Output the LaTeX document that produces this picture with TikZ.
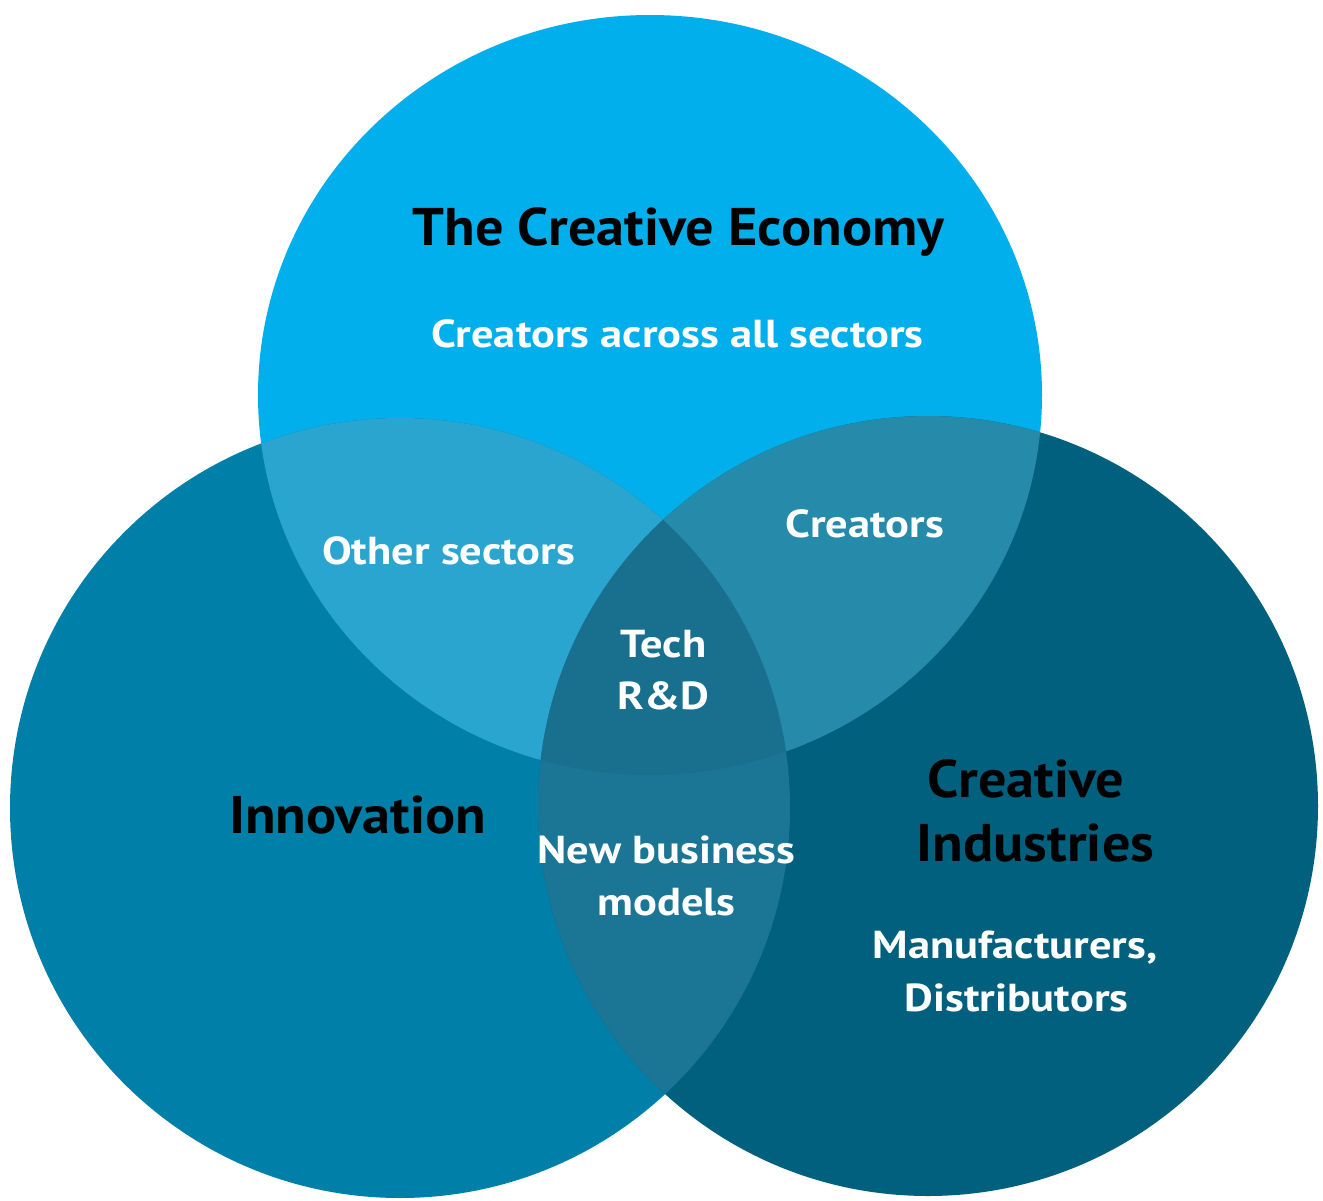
\documentclass[tikz,border=0pt]{standalone}
\usepackage{fontspec}
\setmainfont{PT Sans}
\newfontfamily\hdfont{PT Sans}[FakeStretch=1.06]
\newfontfamily\lbfont{PT Sans}[FakeStretch=1.14]
\definecolor{cTop}{RGB}{0,175,236}
\definecolor{cLeft}{RGB}{0,128,168}
\definecolor{cRight}{RGB}{0,96,125}
\definecolor{cTL}{RGB}{41,165,208}
\definecolor{cTR}{RGB}{38,138,170}
\definecolor{cLR}{RGB}{27,117,149}
\definecolor{cAll}{RGB}{25,112,142}
\begin{document}
\begin{tikzpicture}[x=1pt,y=-1pt,
  hd/.style={font=\hdfont\bfseries\fontsize{53}{60}\selectfont, text=black, inner sep=0pt, anchor=base},
  lb/.style={font=\lbfont\bfseries\fontsize{39}{46}\selectfont, text=white, inner sep=0pt, anchor=base}]
\useasboundingbox (0,0) rectangle (1323,1200);
\def\topshape{(650,395) ellipse [x radius=392pt, y radius=380pt]}
\def\leftshape{(400,808) circle [radius=390pt]}
\def\rightshape{(928,806) circle [radius=390pt]}
% base circles
\fill[cTop] \topshape;
\fill[cLeft] \leftshape;
\fill[cRight] \rightshape;
% pairwise overlaps
\begin{scope}
  \clip \leftshape;
  \fill[cTL] \topshape;
\end{scope}
\begin{scope}
  \clip \rightshape;
  \fill[cTR] \topshape;
\end{scope}
\begin{scope}
  \clip \leftshape;
  \fill[cLR] \rightshape;
\end{scope}
\begin{scope}
  \clip \leftshape;
  \clip \rightshape;
  \fill[cAll] \topshape;
\end{scope}
% labels
\node[hd] (tce) at (678.5,245) {The Creative Economy};
\node[lb] (cas) at (677.5,347) {Creators across all sectors};
\node[lb] (oth) at (448.5,564) {Other sectors};
\node[lb] (cre) at (865,537) {Creators};
\node[lb] (tech) at (663.5,657) {Tech};
\node[lb] (rd) at (663.5,709) {R\&D};
\node[hd] (inn) at (357.5,833) {Innovation};
\node[lb] (nbm1) at (666.5,863) {New business};
\node[lb] (nbm2) at (666.5,915) {models};
\node[hd] (ci1) at (1026,797) {Creative};
\node[hd] (ci2) at (1035.5,861) {Industries};
\node[lb] (md1) at (1015,958) {Manufacturers,};
\node[lb] (md2) at (1016.5,1011) {Distributors};
\end{tikzpicture}
\end{document}
